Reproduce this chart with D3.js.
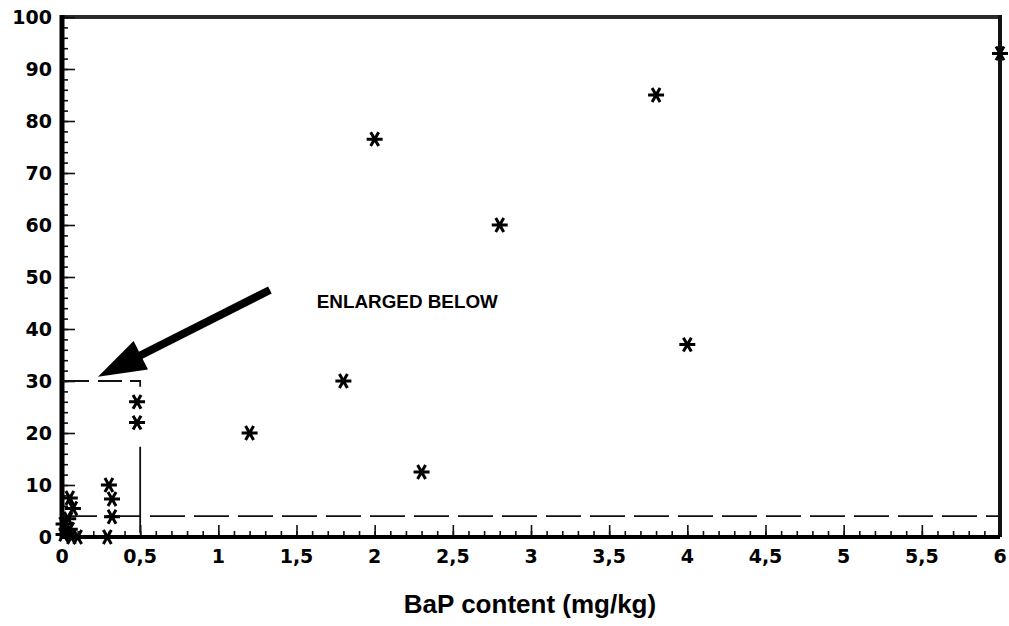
<!DOCTYPE html>
<html>
<head>
<meta charset="utf-8">
<script src="https://cdn.jsdelivr.net/npm/d3@7"></script>
<style>
  body { margin: 0; background: #fff; }
  svg { display: block; }
</style>
</head>
<body>
<svg width="1009" height="626"></svg>
<script>
// data: BaP content (mg/kg) vs. response
var bapX = [6.0, 3.8, 2.0, 2.8, 4.0, 1.8, 1.2, 2.3, 0.48, 0.48, 0.3, 0.32, 0.32, 0.29,
            0.05, 0.07, 0.04, 0.01, 0.05, 0.01, 0.06, 0.1];
var bapY = [93, 85, 76.5, 60, 37, 30, 20, 12.5, 26, 22, 10, 7.3, 3.9, 0,
            7.5, 5.5, 3.5, 2.5, 1.5, 0.5, 0, 0];
var xTicks = [0, 0.5, 1, 1.5, 2, 2.5, 3, 3.5, 4, 4.5, 5, 5.5, 6];
var xTickLabels = ["0", "0,5", "1", "1,5", "2", "2,5", "3", "3,5", "4", "4,5", "5", "5,5", "6"];
var yTicks = [0, 10, 20, 30, 40, 50, 60, 70, 80, 90, 100];
var limitY = 4;          // horizontal dashed limit line
var boxX = 0.5, boxY = 30; // "enlarged below" box
var arrowTail = [1.33, 47.5], arrowTip = [0.23, 30.8];
var noteText = "ENLARGED BELOW", notePos = [1.63, 44];
var xTitle = "BaP content (mg/kg)";

var svg = d3.select("svg"),
    mLeft = 62, mRight = 1000, mTop = 17, mBottom = 537;

var x = d3.scaleLinear().domain([0, 6]).range([mLeft, mRight]);
var y = d3.scaleLinear().domain([0, 100]).range([mBottom, mTop]);

// frame
svg.append("line").attr("x1", mLeft).attr("x2", mRight).attr("y1", mTop).attr("y2", mTop)
    .attr("stroke", "#2a2a2a").attr("stroke-width", 4);
svg.append("line").attr("x1", mRight).attr("x2", mRight).attr("y1", mTop - 2).attr("y2", mBottom)
    .attr("stroke", "#111").attr("stroke-width", 4);

// inward ticks
var xAxisMinor = d3.axisTop(x).tickValues(d3.range(0, 61).map(function(i) { return i / 10; }))
    .tickSize(6).tickFormat("");
svg.append("g").attr("transform", "translate(0," + mBottom + ")").call(xAxisMinor);
var xAxisMajor = d3.axisTop(x).tickValues(xTicks).tickSize(12).tickFormat("");
svg.append("g").attr("transform", "translate(0," + mBottom + ")").call(xAxisMajor);
var yAxisMinor = d3.axisRight(y).tickValues(d3.range(0, 101, 2)).tickSize(6).tickFormat("");
svg.append("g").attr("transform", "translate(" + mLeft + ",0)").call(yAxisMinor);
var yAxisMajor = d3.axisRight(y).tickValues(yTicks).tickSize(13).tickFormat("");
svg.append("g").attr("transform", "translate(" + mLeft + ",0)").call(yAxisMajor);
svg.selectAll(".domain").remove();
svg.selectAll(".tick line").attr("stroke", "#111").attr("stroke-width", 1.6);

// main axis lines
svg.append("line").attr("x1", mLeft).attr("x2", mRight).attr("y1", mBottom).attr("y2", mBottom)
    .attr("stroke", "#000").attr("stroke-width", 4);
svg.append("line").attr("x1", mLeft).attr("x2", mLeft).attr("y1", mTop - 2).attr("y2", mBottom + 2)
    .attr("stroke", "#000").attr("stroke-width", 5);

// tick labels
svg.selectAll(".xl").data(xTicks).enter().append("text")
    .attr("x", function(d) { return x(d); }).attr("y", mBottom + 26)
    .attr("text-anchor", "middle")
    .attr("font-family", "DejaVu Sans").attr("font-weight", "bold").attr("font-size", 19)
    .text(function(d, i) { return xTickLabels[i]; });
svg.selectAll(".yl").data(yTicks).enter().append("text")
    .attr("x", 52).attr("y", function(d) { return y(d); })
    .attr("dy", "0.36em").attr("text-anchor", "end")
    .attr("font-family", "DejaVu Sans").attr("font-weight", "bold").attr("font-size", 19)
    .text(function(d) { return d; });

// axis title
svg.append("text").attr("x", 530).attr("y", 613).attr("text-anchor", "middle")
    .attr("font-family", "Liberation Sans").attr("font-weight", "bold").attr("font-size", 26)
    .text(xTitle);

// dashed limit line
svg.append("line").attr("x1", x(0)).attr("x2", x(6)).attr("y1", y(limitY)).attr("y2", y(limitY))
    .attr("stroke", "#111").attr("stroke-width", 1.8).attr("stroke-dasharray", "35 9");

// dashed box
svg.append("path")
    .attr("d", "M" + x(0) + "," + y(boxY) + "H" + x(boxX) + "V" + y(0))
    .attr("fill", "none").attr("stroke", "#111").attr("stroke-width", 1.8)
    .attr("stroke-dasharray", "27 9 24 8 16 60 86");

// arrow
var tx = x(arrowTail[0]), ty = y(arrowTail[1]), px = x(arrowTip[0]), py = y(arrowTip[1]);
var ang = Math.atan2(py - ty, px - tx), headLen = 48, headW = 16;
var bx = px - headLen * Math.cos(ang), by = py - headLen * Math.sin(ang);
svg.append("line").attr("x1", tx).attr("y1", ty).attr("x2", bx + 4 * Math.cos(ang)).attr("y2", by + 4 * Math.sin(ang))
    .attr("stroke", "#000").attr("stroke-width", 8);
svg.append("path")
    .attr("d", "M" + px + "," + py +
        "L" + (bx + headW * Math.sin(ang)) + "," + (by - headW * Math.cos(ang)) +
        "L" + (bx - headW * Math.sin(ang)) + "," + (by + headW * Math.cos(ang)) + "Z")
    .attr("fill", "#000");

svg.append("text").attr("x", x(notePos[0])).attr("y", y(notePos[1]))
    .attr("font-family", "Liberation Sans").attr("font-weight", "bold").attr("font-size", 19)
    .attr("textLength", 181).attr("lengthAdjust", "spacingAndGlyphs")
    .text(noteText);

// asterisk markers (horizontal bar + two diagonals)
var star = d3.symbol().type(d3.symbolAsterisk).size(180);
svg.selectAll(".pt").data(bapX).enter().append("path")
    .attr("transform", function(d, i) { return "translate(" + x(d) + "," + y(bapY[i]) + ") rotate(90)"; })
    .attr("d", star)
    .attr("fill", "none").attr("stroke", "#000").attr("stroke-width", 3);
</script>
</body>
</html>
